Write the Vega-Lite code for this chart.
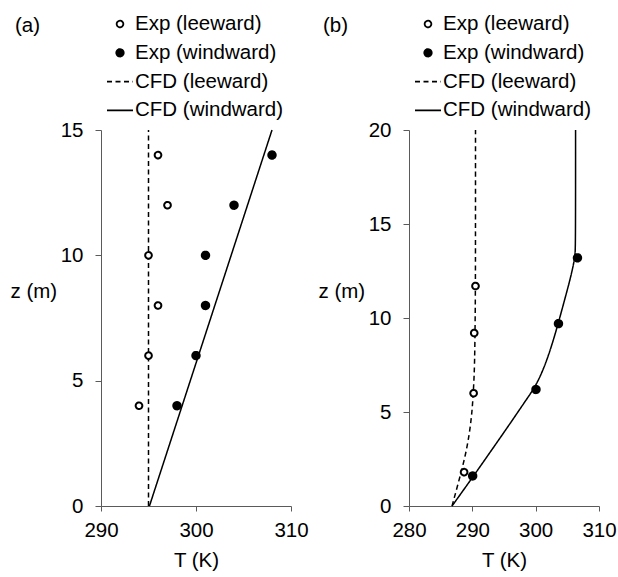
{
  "$schema": "https://vega.github.io/schema/vega-lite/v6.json",
  "padding": {"left": 10, "top": 10, "right": 0, "bottom": 0},
  "background": "white",
  "spacing": 118,
  "bounds": "flush",
  "datasets": {
    "a_exp": [
      {"series": "Exp (leeward)", "T": 296, "z": 14},
      {"series": "Exp (leeward)", "T": 297, "z": 12},
      {"series": "Exp (leeward)", "T": 295, "z": 10},
      {"series": "Exp (leeward)", "T": 296, "z": 8},
      {"series": "Exp (leeward)", "T": 295, "z": 6},
      {"series": "Exp (leeward)", "T": 294, "z": 4},
      {"series": "Exp (windward)", "T": 308, "z": 14},
      {"series": "Exp (windward)", "T": 304, "z": 12},
      {"series": "Exp (windward)", "T": 301, "z": 10},
      {"series": "Exp (windward)", "T": 301, "z": 8},
      {"series": "Exp (windward)", "T": 300, "z": 6},
      {"series": "Exp (windward)", "T": 298, "z": 4}
    ],
    "a_cfd": [
      {"series": "CFD (leeward)", "T": 295, "z": 0},
      {"series": "CFD (leeward)", "T": 295, "z": 15},
      {"series": "CFD (windward)", "T": 295.1, "z": 0},
      {"series": "CFD (windward)", "T": 308, "z": 15}
    ],
    "b_exp": [
      {"series": "Exp (leeward)", "T": 288.7, "z": 1.8},
      {"series": "Exp (leeward)", "T": 290.2, "z": 6.0},
      {"series": "Exp (leeward)", "T": 290.3, "z": 9.2},
      {"series": "Exp (leeward)", "T": 290.5, "z": 11.7},
      {"series": "Exp (windward)", "T": 290.05, "z": 1.6},
      {"series": "Exp (windward)", "T": 300.05, "z": 6.2},
      {"series": "Exp (windward)", "T": 303.6, "z": 9.7},
      {"series": "Exp (windward)", "T": 306.6, "z": 13.2}
    ],
    "b_cfd": [
      {"series": "CFD (leeward)", "T": 286.8, "z": 0},
      {"series": "CFD (leeward)", "T": 287.6, "z": 1},
      {"series": "CFD (leeward)", "T": 288.4, "z": 2},
      {"series": "CFD (leeward)", "T": 289.1, "z": 3},
      {"series": "CFD (leeward)", "T": 289.6, "z": 4},
      {"series": "CFD (leeward)", "T": 289.95, "z": 5},
      {"series": "CFD (leeward)", "T": 290.15, "z": 6},
      {"series": "CFD (leeward)", "T": 290.3, "z": 7},
      {"series": "CFD (leeward)", "T": 290.38, "z": 8},
      {"series": "CFD (leeward)", "T": 290.45, "z": 10},
      {"series": "CFD (leeward)", "T": 290.5, "z": 12},
      {"series": "CFD (leeward)", "T": 290.5, "z": 20},
      {"series": "CFD (windward)", "T": 286.8, "z": 0},
      {"series": "CFD (windward)", "T": 290.2, "z": 1.6},
      {"series": "CFD (windward)", "T": 293.1, "z": 3},
      {"series": "CFD (windward)", "T": 296.2, "z": 4.5},
      {"series": "CFD (windward)", "T": 298.2, "z": 5.5},
      {"series": "CFD (windward)", "T": 299.65, "z": 6.2},
      {"series": "CFD (windward)", "T": 300.6, "z": 6.8},
      {"series": "CFD (windward)", "T": 301.6, "z": 7.6},
      {"series": "CFD (windward)", "T": 302.6, "z": 8.6},
      {"series": "CFD (windward)", "T": 303.55, "z": 9.7},
      {"series": "CFD (windward)", "T": 304.6, "z": 11},
      {"series": "CFD (windward)", "T": 305.4, "z": 12},
      {"series": "CFD (windward)", "T": 305.95, "z": 12.8},
      {"series": "CFD (windward)", "T": 306.2, "z": 13.3},
      {"series": "CFD (windward)", "T": 306.3, "z": 13.7},
      {"series": "CFD (windward)", "T": 306.3, "z": 20}
    ]
  },
  "hconcat": [
    {
      "width": 190,
      "height": 376,
      "title": {"text": "(a)", "anchor": "start", "frame": "group", "dx": -86, "dy": 36, "baseline": "middle", "offset": 0},
      "encoding": {
        "x": {"field": "T", "type": "quantitative", "scale": {"domain": [290, 310], "nice": false, "zero": false},
          "axis": {"values": [290, 300, 310], "title": "T (K)", "titleX": 95, "titleY": 60, "titleAlign": "center", "titleBaseline": "alphabetic"}},
        "y": {"field": "z", "type": "quantitative", "scale": {"domain": [0, 15], "nice": false},
          "axis": {"values": [0, 5, 10, 15], "title": "z (m)", "titleAngle": 0, "titleAlign": "left", "titleBaseline": "middle", "titleX": -91, "titleY": 161}},
        "strokeDash": {"field": "series", "type": "nominal",
          "scale": {"domain": ["Exp (leeward)", "Exp (windward)", "CFD (leeward)", "CFD (windward)"], "range": [[1, 0], [1, 0], [5, 3.5], [1, 0]]},
          "legend": {"orient": "none", "legendX": 5, "legendY": -120, "title": null, "symbolSize": 676, "symbolStrokeWidth": 1.8, "symbolOpacity": 1, "labelFontSize": 20.5, "labelOffset": 1, "rowPadding": 3.8, "padding": 0, "labelLimit": 300, "labelColor": "black", "labelFont": "Liberation Sans"}},
        "stroke": {"field": "series", "type": "nominal",
          "scale": {"domain": ["Exp (leeward)", "Exp (windward)", "CFD (leeward)", "CFD (windward)"], "range": ["black", "black", "black", "black"]},
          "legend": {"orient": "none", "legendX": 5, "legendY": -120, "title": null, "symbolSize": 676, "symbolStrokeWidth": 1.8, "symbolOpacity": 1, "labelFontSize": 20.5, "labelOffset": 1, "rowPadding": 3.8, "padding": 0, "labelLimit": 300, "labelColor": "black", "labelFont": "Liberation Sans"}}
      },
      "layer": [
        {"data": {"name": "a_cfd"}, "mark": {"type": "line", "strokeWidth": 1.5, "interpolate": "basis"},
          "encoding": {"order": {"field": "z", "type": "quantitative"}}},
        {"data": {"name": "a_exp"}, "mark": {"type": "point", "strokeWidth": 2, "opacity": 1, "size": 676},
          "encoding": {
            "fill": {"field": "series", "type": "nominal",
              "scale": {"domain": ["Exp (leeward)", "Exp (windward)", "CFD (leeward)", "CFD (windward)"], "range": ["white", "black", "transparent", "transparent"]},
              "legend": {"orient": "none", "legendX": 5, "legendY": -120, "title": null, "symbolSize": 676, "symbolStrokeWidth": 1.8, "symbolOpacity": 1, "labelFontSize": 20.5, "labelOffset": 1, "rowPadding": 3.8, "padding": 0, "labelLimit": 300, "labelColor": "black", "labelFont": "Liberation Sans"}},
            "shape": {"field": "series", "type": "nominal",
              "scale": {"domain": ["Exp (leeward)", "Exp (windward)", "CFD (leeward)", "CFD (windward)"], "range": ["M-0.255,0A0.255,0.255 0 1,0 0.255,0A0.255,0.255 0 1,0 -0.255,0Z", "M-0.285,0A0.285,0.285 0 1,0 0.285,0A0.285,0.285 0 1,0 -0.285,0Z", "stroke", "stroke"]},
              "legend": {"orient": "none", "legendX": 5, "legendY": -120, "title": null, "symbolSize": 676, "symbolStrokeWidth": 1.8, "symbolOpacity": 1, "labelFontSize": 20.5, "labelOffset": 1, "rowPadding": 3.8, "padding": 0, "labelLimit": 300, "labelColor": "black", "labelFont": "Liberation Sans"}}
          }}
      ]
    },
    {
      "width": 190,
      "height": 376,
      "title": {"text": "(b)", "anchor": "start", "frame": "group", "dx": -86, "dy": 36, "baseline": "middle", "offset": 0},
      "encoding": {
        "x": {"field": "T", "type": "quantitative", "scale": {"domain": [280, 310], "nice": false, "zero": false},
          "axis": {"values": [280, 290, 300, 310], "title": "T (K)", "titleX": 95, "titleY": 60, "titleAlign": "center", "titleBaseline": "alphabetic"}},
        "y": {"field": "z", "type": "quantitative", "scale": {"domain": [0, 20], "nice": false},
          "axis": {"values": [0, 5, 10, 15, 20], "title": "z (m)", "titleAngle": 0, "titleAlign": "left", "titleBaseline": "middle", "titleX": -91, "titleY": 161}},
        "strokeDash": {"field": "series", "type": "nominal",
          "scale": {"domain": ["Exp (leeward)", "Exp (windward)", "CFD (leeward)", "CFD (windward)"], "range": [[1, 0], [1, 0], [5, 3.5], [1, 0]]},
          "legend": {"orient": "none", "legendX": 5, "legendY": -120, "title": null, "symbolSize": 676, "symbolStrokeWidth": 1.8, "symbolOpacity": 1, "labelFontSize": 20.5, "labelOffset": 1, "rowPadding": 3.8, "padding": 0, "labelLimit": 300, "labelColor": "black", "labelFont": "Liberation Sans"}},
        "stroke": {"field": "series", "type": "nominal",
          "scale": {"domain": ["Exp (leeward)", "Exp (windward)", "CFD (leeward)", "CFD (windward)"], "range": ["black", "black", "black", "black"]},
          "legend": {"orient": "none", "legendX": 5, "legendY": -120, "title": null, "symbolSize": 676, "symbolStrokeWidth": 1.8, "symbolOpacity": 1, "labelFontSize": 20.5, "labelOffset": 1, "rowPadding": 3.8, "padding": 0, "labelLimit": 300, "labelColor": "black", "labelFont": "Liberation Sans"}}
      },
      "layer": [
        {"data": {"name": "b_cfd"}, "mark": {"type": "line", "strokeWidth": 1.5, "interpolate": "basis"},
          "encoding": {"order": {"field": "z", "type": "quantitative"}}},
        {"data": {"name": "b_exp"}, "mark": {"type": "point", "strokeWidth": 2, "opacity": 1, "size": 676},
          "encoding": {
            "fill": {"field": "series", "type": "nominal",
              "scale": {"domain": ["Exp (leeward)", "Exp (windward)", "CFD (leeward)", "CFD (windward)"], "range": ["white", "black", "transparent", "transparent"]},
              "legend": {"orient": "none", "legendX": 5, "legendY": -120, "title": null, "symbolSize": 676, "symbolStrokeWidth": 1.8, "symbolOpacity": 1, "labelFontSize": 20.5, "labelOffset": 1, "rowPadding": 3.8, "padding": 0, "labelLimit": 300, "labelColor": "black", "labelFont": "Liberation Sans"}},
            "shape": {"field": "series", "type": "nominal",
              "scale": {"domain": ["Exp (leeward)", "Exp (windward)", "CFD (leeward)", "CFD (windward)"], "range": ["M-0.255,0A0.255,0.255 0 1,0 0.255,0A0.255,0.255 0 1,0 -0.255,0Z", "M-0.285,0A0.285,0.285 0 1,0 0.285,0A0.285,0.285 0 1,0 -0.285,0Z", "stroke", "stroke"]},
              "legend": {"orient": "none", "legendX": 5, "legendY": -120, "title": null, "symbolSize": 676, "symbolStrokeWidth": 1.8, "symbolOpacity": 1, "labelFontSize": 20.5, "labelOffset": 1, "rowPadding": 3.8, "padding": 0, "labelLimit": 300, "labelColor": "black", "labelFont": "Liberation Sans"}}
          }}
      ]
    }
  ],
  "resolve": {
    "scale": {"strokeDash": "independent", "stroke": "independent", "fill": "independent", "shape": "independent", "x": "independent", "y": "independent"},
    "legend": {"strokeDash": "independent", "stroke": "independent", "fill": "independent", "shape": "independent"}
  },
  "config": {
    "font": "Liberation Sans",
    "view": {"stroke": null},
    "title": {"fontSize": 20.5, "fontWeight": "normal", "color": "black", "font": "Liberation Sans"},
    "axis": {
      "grid": false,
      "domainColor": "#5a5a5a",
      "tickColor": "#5a5a5a",
      "domainWidth": 1,
      "tickWidth": 1,
      "labelColor": "black",
      "labelFont": "Liberation Sans",
      "labelFontSize": 20.5,
      "titleFont": "Liberation Sans",
      "titleFontSize": 20.5,
      "titleFontWeight": "normal",
      "titleColor": "black",
      "labelFlush": false,
      "labelOverlap": false
    },
    "axisX": {"tickSize": 5, "labelPadding": 25, "labelBaseline": "alphabetic"},
    "axisY": {"tickSize": 6, "labelPadding": 12}
  }
}
